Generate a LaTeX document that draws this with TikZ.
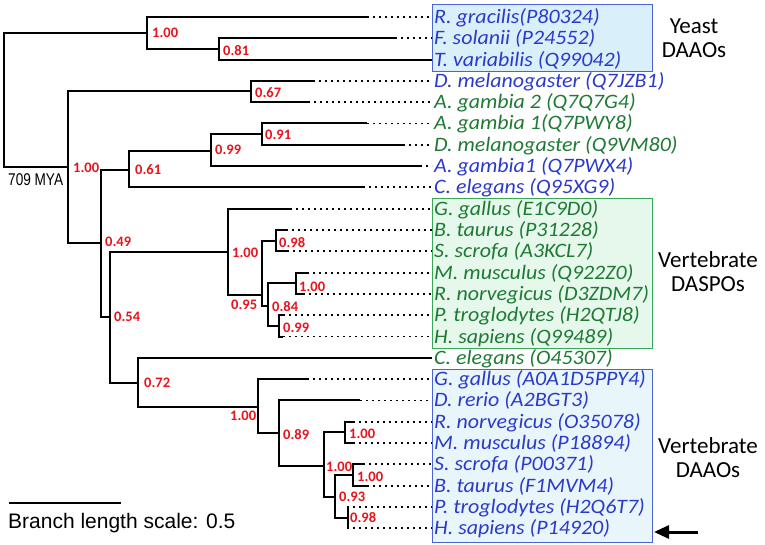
\documentclass[tikz,border=0pt]{standalone}
\usepackage{fontspec}
\setmainfont{Carlito}
\newfontfamily\arialf{Liberation Sans}
\newfontfamily\leaffont[FakeStretch=1.07]{Carlito}
\usetikzlibrary{arrows.meta}
\definecolor{lblue}{HTML}{2B3AC9}
\definecolor{lgreen}{HTML}{1E7A34}
\definecolor{bootred}{HTML}{E8141C}
\definecolor{yfill}{HTML}{D9F0FA}
\definecolor{dfill}{HTML}{E8F6FB}
\definecolor{gfill}{HTML}{E6F8EC}
\definecolor{bborder}{HTML}{4A63D6}
\definecolor{gborder}{HTML}{3AA757}
\begin{document}
\begin{tikzpicture}[x=1pt,y=-1pt,
  br/.style={line width=2pt, line join=miter},
  dotl/.style={line width=1.8pt, dash pattern=on 1.6pt off 4.4pt},
  leaf/.style={anchor=west, inner xsep=2pt, inner ysep=0pt, text height=17pt, text depth=4pt,
    font=\leaffont\fontsize{20.5}{24}\selectfont\itshape},
  boot/.style={anchor=west, inner sep=0pt, text=bootred, font=\fontsize{14.5}{16}\selectfont\bfseries},
  grp/.style={align=center, inner sep=0pt, font=\fontsize{23}{24}\selectfont},
  clade/.style={line width=1.2pt}]
\useasboundingbox (0,0) rectangle (765,545);
% boxes
\node[clade, draw=bborder, fill=yfill, minimum width=220pt, minimum height=67pt, anchor=north west, inner sep=0pt] (boxY) at (432,4) {};
\node[clade, draw=gborder, fill=gfill, minimum width=220pt, minimum height=150pt, anchor=north west, inner sep=0pt] (boxS) at (432,198) {};
\node[clade, draw=bborder, fill=dfill, minimum width=220pt, minimum height=173pt, anchor=north west, inner sep=0pt] (boxD) at (432,369) {};
% leaves
\foreach \i/\t/\c/\e in {
 0/{R. gracilis(P80324)}/lblue/367,
 1/{F. solanii (P24552)}/lblue/395,
 2/{T. variabilis (Q99042)}/lblue/432,
 3/{D. melanogaster (Q7JZB1)}/lblue/313,
 4/{A. gambia 2 (Q7Q7G4)}/lgreen/308,
 5/{A. gambia 1(Q7PWY8)}/lgreen/367,
 6/{D. melanogaster (Q9VM80)}/lgreen/403,
 7/{A. gambia1 (Q7PWX4)}/lblue/420,
 8/{C. elegans (Q95XG9)}/lblue/363,
 9/{G. gallus (E1C9D0)}/lgreen/290,
 10/{B. taurus (P31228)}/lgreen/286,
 11/{S. scrofa (A3KCL7)}/lgreen/287,
 12/{M. musculus (Q922Z0)}/lgreen/307,
 13/{R. norvegicus (D3ZDM7)}/lgreen/303,
 14/{P. troglodytes (H2QTJ8)}/lgreen/283,
 15/{H. sapiens (Q99489)}/lgreen/283,
 16/{C. elegans (O45307)}/lgreen/432,
 17/{G. gallus (A0A1D5PPY4)}/lblue/307,
 18/{D. rerio (A2BGT3)}/lblue/360,
 19/{R. norvegicus (O35078)}/lblue/353,
 20/{M. musculus (P18894)}/lblue/353,
 21/{S. scrofa (P00371)}/lblue/363,
 22/{B. taurus (F1MVM4)}/lblue/367,
 23/{P. troglodytes (H2Q6T7)}/lblue/347,
 24/{H. sapiens (P14920)}/lblue/347}{
  \pgfmathsetmacro\yy{17+21.3*\i}
  \node[leaf, text=\c] (L\i) at (432,\yy) {\t};
  \coordinate (e\i) at (\e,\yy);
  \draw[dotl] (e\i) -- (L\i.west);
}
% internal nodes
\coordinate (R) at (4,100);
\coordinate (Y) at (147,33);
\coordinate (Y2) at (219,49);
\coordinate (A) at (68,167);
\coordinate (B) at (251,91.5);
\coordinate (C) at (101,243);
\coordinate (D) at (129,170);
\coordinate (F) at (211,151);
\coordinate (G) at (262,134);
\coordinate (E) at (110,317);
\coordinate (H) at (228,252);
\coordinate (J) at (262,295);
\coordinate (K) at (276,241);
\coordinate (L) at (268,306);
\coordinate (M) at (296,283);
\coordinate (N) at (279,326);
\coordinate (I) at (138,383);
\coordinate (O) at (258,407);
\coordinate (P) at (279,433);
\coordinate (Q) at (324,466);
\coordinate (S) at (345,432);
\coordinate (T) at (335,497);
\coordinate (U) at (353,475);
\coordinate (V) at (348,517.5);
\foreach \p/\c in {R/Y,R/A,Y/e0,Y/Y2,Y2/e1,Y2/e2,A/B,A/C,B/e3,B/e4,C/D,C/E,D/F,D/e8,
  F/G,F/e7,G/e5,G/e6,E/H,E/I,H/e9,H/J,J/K,J/L,K/e10,K/e11,L/M,L/N,M/e12,M/e13,
  N/e14,N/e15,I/e16,I/O,O/e17,O/P,P/e18,P/Q,Q/S,Q/T,S/e19,S/e20,T/U,T/V,
  U/e21,U/e22,V/e23,V/e24}{
  \draw[br] (\p) |- (\c);
}
% bootstrap values
\foreach \n/\x/\y/\v in {bY/152/33/1.00, bY2/223/51/0.81, bB/255/93/0.67, bA/73/168/1.00,
  bG/265/135/0.91, bF/215/150/0.99, bD/135/170/0.61, bC/105/242/0.49, bE/114/317/0.54,
  bH/232/253/1.00, bJ/231/305/0.95, bK/279/243/0.98, bL/272/307/0.84, bM/299/287/1.00,
  bN/283/328/0.99, bI/144/383/0.72, bO/230/416/1.00, bP/283/435/0.89, bQ/326/467/1.00,
  bS/349/434/1.00, bT/339/497/0.93, bU/357/477/1.00, bV/350/518/0.98}{
  \node[boot] (\n) at (\x,\y) {\v};
}
% root age
\node[anchor=west, inner sep=0pt] (mya) at (8,180) {\arialf\fontsize{17}{20}\selectfont\scalebox{0.8}[1]{709 MYA}};
% group labels
\node[grp] (gY) at (694,38) {Yeast\\DAAOs};
\node[grp] (gS) at (708,272) {Vertebrate\\DASPOs};
\node[grp] (gD) at (708,458) {Vertebrate\\DAAOs};
% arrow
\coordinate (a1) at (698,532);
\coordinate (a2) at (654,532);
\draw[line width=3pt, -{Triangle[length=15pt,width=13pt]}] (a1) -- (a2);
% scale bar
\coordinate (s1) at (9,503);
\coordinate (s2) at (121,503);
\draw[line width=1.5pt] (s1) -- (s2);
\node[anchor=west, inner sep=0pt] (sbt) at (8,523) {\arialf\fontsize{21}{24}\selectfont Branch length scale: 0.5};
\end{tikzpicture}
\end{document}
